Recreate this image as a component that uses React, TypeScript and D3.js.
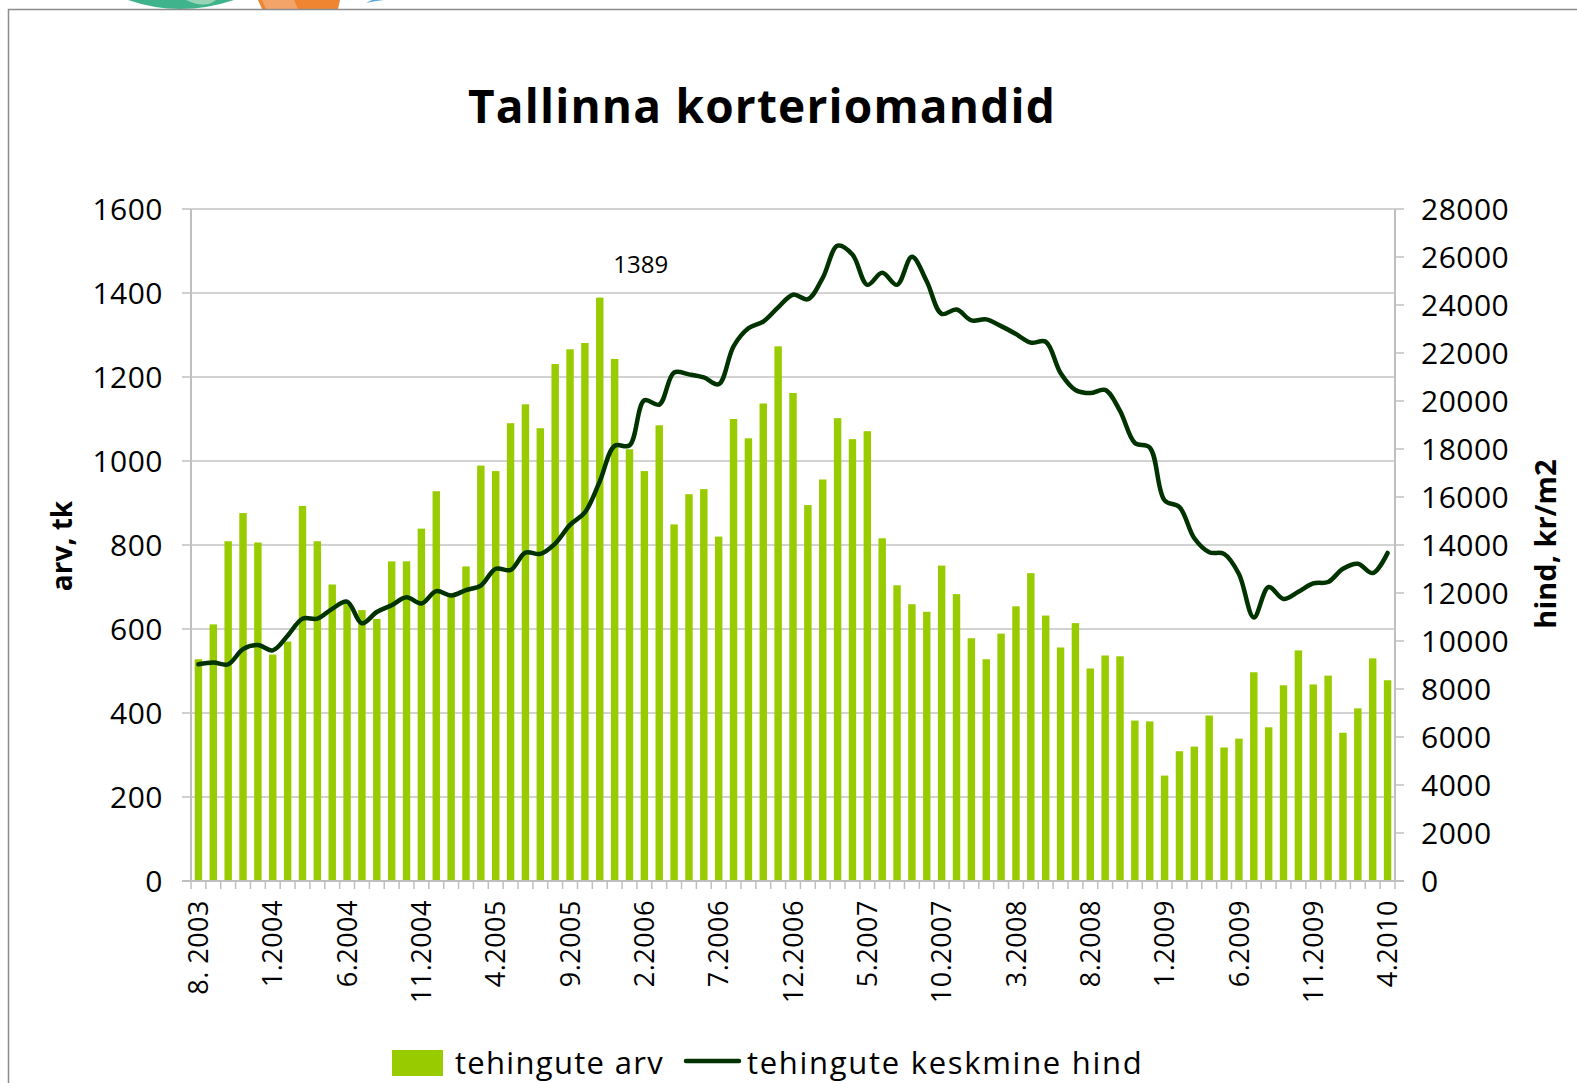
import React from 'react';
import * as d3 from 'd3';

// tehingute arv (tk), monthly 8.2003 - 4.2010
const counts = [
  528, 611, 809, 876, 806, 539, 570, 893, 809, 706,
  662, 645, 624, 761, 761, 839, 928, 680, 749, 989,
  976, 1090, 1135, 1078, 1231, 1266, 1281, 1389, 1243, 1028,
  976, 1085, 849, 921, 933, 820, 1100, 1054, 1137, 1273,
  1162, 895, 956, 1102, 1052, 1071, 816, 704, 659, 641,
  751, 683, 578, 528, 589, 654, 733, 632, 556, 614,
  506, 537, 535, 382, 380, 251, 309, 320, 394, 318,
  339, 497, 366, 466, 549, 468, 489, 353, 411, 530,
  478,
];

// tehingute keskmine hind (kr/m2)
const prices = [
  9030, 9100, 9030, 9660, 9830, 9610, 10220, 10930, 10930, 11340,
  11640, 10740, 11210, 11490, 11820, 11560, 12080, 11900, 12120, 12310,
  13010, 12960, 13680, 13630, 14060, 14840, 15360, 16650, 18130, 18150,
  20030, 19850, 21190, 21110, 20980, 20700, 22280, 23030, 23310, 23900,
  24430, 24240, 25130, 26470, 26100, 24840, 25340, 24840, 26010, 24980,
  23630, 23810, 23360, 23400, 23120, 22790, 22430, 22470, 21170, 20460,
  20330, 20460, 19590, 18250, 18060, 15860, 15580, 14280, 13700, 13630,
  12790, 10980, 12250, 11750, 12050, 12400, 12460, 13010, 13220, 12830,
  13670,
];

const tickLabels = [
  '8. 2003', '1.2004', '6.2004', '11.2004', '4.2005', '9.2005', '2.2006', '7.2006',
  '12.2006', '5.2007', '10.2007', '3.2008', '8.2008', '1.2009', '6.2009', '11.2009', '4.2010',
];

const leftTicks = [0, 200, 400, 600, 800, 1000, 1200, 1400, 1600];
const rightTicks = [0, 2000, 4000, 6000, 8000, 10000, 12000, 14000, 16000, 18000, 20000, 22000, 24000, 26000, 28000];

// month keys for the band scale
const months: string[] = [];
for (let i = 0; i < counts.length; i++) {
  const m = ((7 + i) % 12) + 1;
  const y = 2003 + Math.floor((7 + i) / 12);
  months.push(`${m}.${y}`);
}

const W = 1577, H = 1083;
const left = 191, right = 1395, top = 209, bottom = 881;
const font = '"Open Sans", sans-serif';
const green = '#99cc00';
const dark = '#003300';
const axisCol = '#bfbfbf';
const gridCol = '#a6a6a6';

export default function App() {
  const x = d3.scaleBand<string>().domain(months).range([left, right]).paddingInner(0.5).paddingOuter(0.25);
  const step = x.step();
  const yL = d3.scaleLinear().domain([0, 1600]).range([bottom, top]);
  const yR = d3.scaleLinear().domain([0, 28000]).range([bottom, top]);
  const cx = (i: number) => (x(months[i]) as number) + x.bandwidth() / 2;

  const line = d3.line<number>()
    .x((_, i) => cx(i))
    .y(d => yR(d))
    .curve(d3.curveCatmullRom.alpha(0.5));

  const peak = d3.maxIndex(counts);

  return (
    <svg width={W} height={H} style={{ position: 'absolute', left: 0, top: 0, background: '#fff' }}>
      {/* logo fragment peeking over the frame */}
      <path d="M128,0 Q180,18 234,0 Z" fill="#3fb38c" />
      <path d="M186,0 Q205,9 216,0 Z" fill="#98d4b6" />
      <path d="M258,0 L262,9 L338,9 L340,0 Z" fill="#ef8530" />
      <path d="M262,0 L266,9 L298,9 L294,0 Z" fill="#f3a468" />
      <path d="M366,3 Q375,1 384,0 L372,0 Z" fill="#5aa9e0" />
      <path d={`M8.5,${H} V9.5 H${W}`} fill="none" stroke="#8c8c8c" strokeWidth={1.5} />

      <text x={762} y={123} textAnchor="middle" fontFamily={font} fontWeight={700} fontSize={46} letterSpacing={1.2}>
        Tallinna korteriomandid
      </text>

      {/* gridlines */}
      {leftTicks.filter(t => t > 0).map(t => (
        <line key={t} x1={left} x2={right} y1={yL(t)} y2={yL(t)} stroke={gridCol} strokeWidth={1} />
      ))}

      {/* bars */}
      {counts.map((v, i) => (
        <rect key={i} x={x(months[i])} y={yL(v)} width={x.bandwidth()} height={bottom - yL(v)} fill={green} />
      ))}

      <text x={cx(peak) + 41} y={273} textAnchor="middle" fontFamily={font} fontSize={24}>
        {counts[peak]}
      </text>

      {/* price line */}
      <path d={line(prices) || ''} fill="none" stroke={dark} strokeWidth={4.5} strokeLinejoin="round" strokeLinecap="round" />

      {/* axes */}
      <line x1={left} x2={left} y1={top} y2={bottom} stroke={axisCol} strokeWidth={2} />
      <line x1={right} x2={right} y1={top} y2={bottom} stroke={axisCol} strokeWidth={2} />
      <line x1={left - 9} x2={right + 9} y1={bottom} y2={bottom} stroke={axisCol} strokeWidth={2} />
      {leftTicks.map(t => (
        <g key={t}>
          <line x1={left - 9} x2={left} y1={yL(t)} y2={yL(t)} stroke={axisCol} strokeWidth={1.5} />
          <text x={163} y={yL(t)} dy="0.36em" textAnchor="end" fontFamily={font} fontSize={30} letterSpacing={0.5}>{t}</text>
        </g>
      ))}
      {rightTicks.map(t => (
        <g key={t}>
          <line x1={right} x2={right + 9} y1={yR(t)} y2={yR(t)} stroke={axisCol} strokeWidth={1.5} />
          <text x={1421} y={yR(t)} dy="0.36em" fontFamily={font} fontSize={30} letterSpacing={0.5}>{t}</text>
        </g>
      ))}
      {d3.range(months.length + 1).map(i => (
        <line key={i} x1={left + i * step} x2={left + i * step} y1={bottom} y2={bottom + 8} stroke={axisCol} strokeWidth={1.5} />
      ))}
      {tickLabels.map((lab, k) => (
        <text key={lab} transform={`translate(${cx(k * 5)},${900}) rotate(-90)`} dy="0.36em" textAnchor="end"
          fontFamily={font} fontSize={27} letterSpacing={0.5}>{lab}</text>
      ))}

      {/* axis titles */}
      <text transform={`translate(62,546) rotate(-90)`} dy="0.36em" textAnchor="middle" fontFamily={font} fontWeight={700} fontSize={28}>
        arv, tk
      </text>
      <text transform={`translate(1546,544) rotate(-90)`} dy="0.36em" textAnchor="middle" fontFamily={font} fontWeight={700} fontSize={29}>
        hind, kr/m2
      </text>

      {/* legend */}
      <rect x={392} y={1050} width={51} height={26} fill={green} />
      <text x={455} y={1074} fontFamily={font} fontSize={31} letterSpacing={1.3}>tehingute arv</text>
      <line x1={686} x2={739} y1={1061} y2={1061} stroke={dark} strokeWidth={4.5} strokeLinecap="round" />
      <text x={747} y={1074} fontFamily={font} fontSize={31} letterSpacing={1.7}>tehingute keskmine hind</text>
    </svg>
  );
}
